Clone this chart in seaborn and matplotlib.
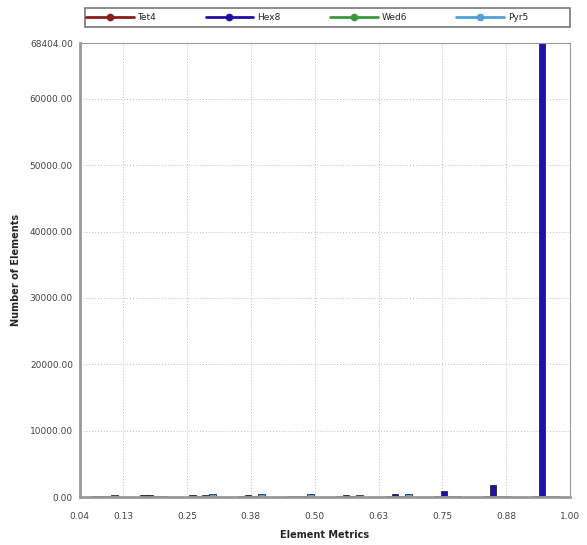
import matplotlib
matplotlib.use("Agg")
import matplotlib.pyplot as plt
from matplotlib.lines import Line2D
from matplotlib.patches import Rectangle
import seaborn as sns
import pandas as pd

bin_centers = [0.088, 0.184, 0.280, 0.376, 0.472, 0.568, 0.664, 0.760, 0.856, 0.952]
series = ["Tet4", "Hex8", "Wed6", "Pyr5"]
tet4 = [150, 250, 250, 200, 200, 200, 200, 150, 100, 100]
hex8 = [150, 250, 200, 250, 200, 300, 400, 900, 1800, 68404]
wed6 = [150, 200, 250, 200, 200, 200, 200, 150, 100, 100]
pyr5 = [300, 200, 450, 450, 450, 250, 450, 200, 150, 150]
colors = ["#8b1c1c", "#1f10a8", "#3c9a3c", "#4fa3dc"]
xtick_vals = [0.04, 0.125, 0.25, 0.375, 0.5, 0.625, 0.75, 0.875, 1.0]
xtick_labels = ["0.04", "0.13", "0.25", "0.38", "0.50", "0.63", "0.75", "0.88", "1.00"]
ytick_vals = [0, 10000, 20000, 30000, 40000, 50000, 60000, 68404]

rows = []
for name, vals in zip(series, [tet4, hex8, wed6, pyr5]):
    for c, v in zip(bin_centers, vals):
        rows.append({"metric": c, "series": name, "count": v})
df = pd.DataFrame(rows)

sns.set_theme(style="white")
plt.rcParams['font.family'] = ['DejaVu Sans']

fig = plt.figure(figsize=(5.87, 5.45), dpi=100)
ax = fig.add_axes([0.136, 0.088, 0.835, 0.833])

sns.barplot(data=df, x="metric", y="count", hue="series", hue_order=series,
            palette=colors, saturation=1, native_scale=True, width=0.55, ax=ax,
            edgecolor="#111111", linewidth=0.5, legend=False, errorbar=None)

ax.set_xlim(0.04, 1.0)
ax.set_ylim(0, 68404)
ax.set_xticks(xtick_vals)
ax.set_xticklabels(xtick_labels, fontsize=6.5, color="#444444")
ax.set_yticks(ytick_vals)
ax.set_yticklabels([f"{v:.2f}" for v in ytick_vals], fontsize=6.5, color="#444444")
ax.tick_params(axis="x", length=0, pad=11)
ax.tick_params(axis="y", length=0, pad=5)
ax.grid(True, color="#bbbbbb", linestyle=(0, (1, 2)), linewidth=0.7)
ax.set_axisbelow(True)
for s in ax.spines.values():
    s.set_color("#999999")
    s.set_linewidth(0.8)
ax.spines["left"].set_linewidth(2)
ax.spines["bottom"].set_linewidth(2)

ax.set_xlabel("Element Metrics", fontsize=7, fontweight="bold", labelpad=6)
ax.set_ylabel("Number of Elements", fontsize=7, fontweight="bold", labelpad=6)

# legend frame across the top
fig.patches.append(Rectangle((85 / 587, 1 - 27 / 545), (570 - 85) / 587, 19 / 545,
                             transform=fig.transFigure, facecolor="white",
                             edgecolor="#777777", linewidth=1.2))
handles = [Line2D([0], [0], color=c, lw=2, marker="o", markersize=4.5) for c in colors]
leg = fig.legend(handles, series, loc="center left", ncol=4,
                 bbox_to_anchor=(84 / 587, 1 - 17.5 / 545, (530 - 84) / 587, 0.0),
                 mode="expand", fontsize=6.5, frameon=False, handlelength=5.3,
                 borderpad=0.2, handletextpad=0.4, borderaxespad=0)

fig.savefig("out.png", dpi=100)
